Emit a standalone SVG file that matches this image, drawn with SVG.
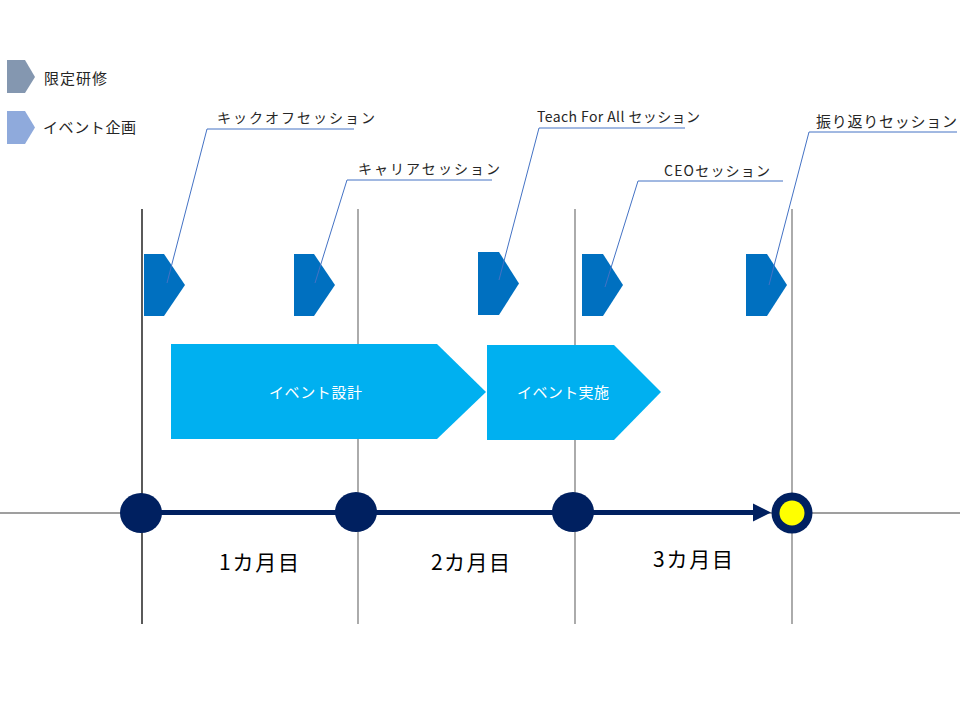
<svg xmlns="http://www.w3.org/2000/svg" width="960" height="720" viewBox="0 0 960 720">
<style>
text{font-family:"Noto Sans CJK JP","Noto Sans",sans-serif}
.call{font-size:14px;fill:#262626}
.leg{font-size:15px;fill:#262626}
.month{font-size:21px;fill:#000}
.inner{font-size:15px;fill:#fff}
.mark{fill:#0070c0}
.phase{fill:#00b0f0}
.cl{fill:none;stroke:#4472c4;stroke-width:1}
.vl{stroke:#7f7f7f;stroke-width:1.3}
.dot{fill:#002060}
</style>
<rect width="960" height="720" fill="#fff"/>
<g id="grid">
<line x1="0" y1="513" x2="960" y2="513" class="vl"/>
<line x1="142" y1="209" x2="142" y2="624" stroke="#000" stroke-width="1.3"/>
<line x1="358" y1="209" x2="358" y2="624" class="vl"/>
<line x1="575" y1="209" x2="575" y2="624" class="vl"/>
<line x1="792" y1="209" x2="792" y2="624" class="vl"/>
</g>
<g id="legend">
<polygon points="7,60 25,60 35,77 25,93 7,93" fill="#8497b0"/>
<text class="leg" x="44" y="84" textLength="63">限定研修</text>
<polygon points="7,111 25,111 35,127.5 25,144 7,144" fill="#8faadc"/>
<text class="leg" x="43" y="133" textLength="93">イベント企画</text>
</g>
<g id="m1"><polygon class="mark" points="144,254 164,254 185,285 164,316 144,316"/></g>
<g id="m2"><polygon class="mark" points="294,254 314,254 335,285 314,316 294,316"/></g>
<g id="m3"><polygon class="mark" points="478,252 499,252 519,283.5 499,315 478,315"/></g>
<g id="m4"><polygon class="mark" points="582,254 603,254 623,285 603,316 582,316"/></g>
<g id="m5"><polygon class="mark" points="746,254 767,254 787,285 767,316 746,316"/></g>
<g id="phase1">
<polygon class="phase" points="171,344 437,344 486,392 437,439 171,439"/>
<text class="inner" x="269" y="398" textLength="93">イベント設計</text>
</g>
<g id="phase2">
<polygon class="phase" points="487,345 614,345 661,392 614,440 487,440"/>
<text class="inner" x="517" y="398" textLength="92">イベント実施</text>
</g>
<g id="connectors">
<polyline class="cl" points="167,283 207,129 354,129"/>
<polyline class="cl" points="315,283 347,180 492,180"/>
<polyline class="cl" points="499,280 539,128 685,128"/>
<polyline class="cl" points="605,287 638,181 783,181"/>
<polyline class="cl" points="769,285 809,132 957,132"/>
<line x1="141" y1="512.5" x2="755" y2="512.5" stroke="#002060" stroke-width="5"/>
<polygon points="753,503.5 771,512.5 753,521.5" fill="#002060"/>
</g>
<g id="labels">
<text class="call" x="217" y="123" textLength="158">キックオフセッション</text>
<text class="call" x="358" y="174" textLength="142">キャリアセッション</text>
<text class="call" x="537" y="122" textLength="163">Teach For All セッション</text>
<text class="call" x="664" y="176" textLength="106">CEOセッション</text>
<text class="call" x="816" y="127" textLength="141" style="font-size:15px">振り返りセッション</text>
</g>
<g id="c1"><ellipse class="dot" cx="141" cy="513" rx="21" ry="20"/></g>
<g id="c2"><ellipse class="dot" cx="356" cy="512" rx="21" ry="20"/></g>
<g id="c3"><ellipse class="dot" cx="573" cy="512" rx="21" ry="20"/></g>
<g id="c4"><circle class="dot" cx="792" cy="513" r="20.5"/><circle cx="792" cy="513" r="12.5" fill="#ffff00"/></g>
<g id="months">
<text class="month" x="219" y="570" textLength="80">1カ月目</text>
<text class="month" x="431" y="570" textLength="79">2カ月目</text>
<text class="month" x="653" y="567" textLength="80">3カ月目</text>
</g>
</svg>
